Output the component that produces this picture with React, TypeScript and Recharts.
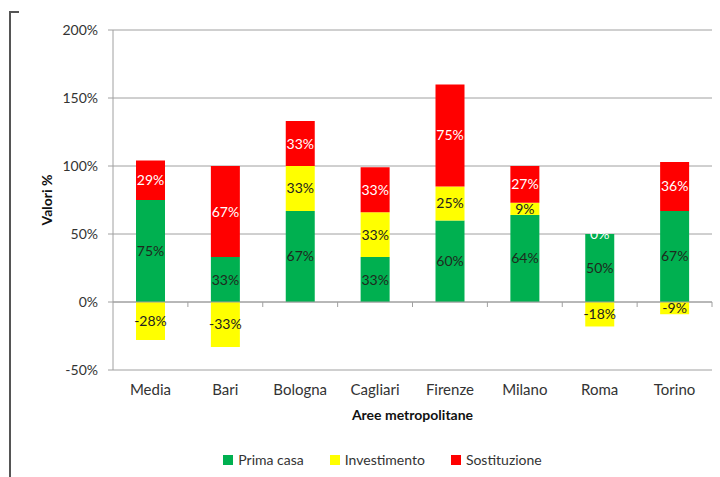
import React from "react";
import {
    ComposedChart,
    Bar,
    XAxis,
    YAxis,
    CartesianGrid,
    Legend,
    LabelList,
    ReferenceLine,
    ReferenceDot,
} from "recharts";

const aree = ["Media", "Bari", "Bologna", "Cagliari", "Firenze", "Milano", "Roma", "Torino"];
const primaCasa = [75, 33, 67, 33, 60, 64, 50, 67];
const investimento = [-28, -33, 33, 33, 25, 9, -18, -9];
const sostituzione = [29, 67, 33, 33, 75, 27, 0, 36];
const yTicks = [-50, 0, 50, 100, 150, 200];

const series = [
    { key: "primaCasa", name: "Prima casa", color: "#00b050", label: "#1e2a1e" },
    { key: "investimento", name: "Investimento", color: "#ffff00", label: "#222" },
    { key: "sostituzione", name: "Sostituzione", color: "#ff0000", label: "#fff" },
];

const data = aree.map((name, i) => ({
    name,
    primaCasa: primaCasa[i],
    investimento: investimento[i],
    sostituzione: sostituzione[i],
}));

// zero-height Sostituzione bars still get their label (recharts skips them)
const zeroLabels = aree
    .map((name, i) => ({ name, v: sostituzione[i], y: primaCasa[i] + Math.max(investimento[i], 0) }))
    .filter((d) => d.v === 0);

const FONT = "Lato, 'Open Sans', sans-serif";
const GRID = "#a0a0a0";
const pct = (v: any) => `${v}%`;

function LegendBox() {
    return (
        <div style={{ display: "flex", justifyContent: "center", gap: 26, fontSize: 14, color: "#333", fontFamily: FONT }}>
            {series.map((s) => (
                <span key={s.key} style={{ display: "flex", alignItems: "center", gap: 5 }}>
                    <span style={{ display: "inline-block", width: 10, height: 10, background: s.color }} />
                    {s.name}
                </span>
            ))}
        </div>
    );
}

// zero line with small tick marks between the categories
function ZeroLine(props: any) {
    const { x1, x2, y1 } = props;
    const step = (x2 - x1) / aree.length;
    return (
        <g>
            <line x1={x1} x2={x2} y1={y1} y2={y1} stroke={GRID} />
            {aree.map((_, i) => (
                <line key={i} x1={x1 + step * (i + 1)} x2={x1 + step * (i + 1)} y1={y1} y2={y1 + 5} stroke={GRID} />
            ))}
        </g>
    );
}

export default function App() {
    return (
        <div
            style={{
                position: "absolute",
                left: 0,
                top: 0,
                width: 720,
                height: 477,
                background: "#fff",
                fontFamily: FONT,
            }}
        >
            <div
                style={{
                    position: "absolute",
                    left: 9,
                    top: 11,
                    width: 8,
                    height: 470,
                    borderLeft: "2px solid #555",
                    borderTop: "2px solid #555",
                }}
            />
            <ComposedChart
                width={720}
                height={477}
                data={data}
                stackOffset="sign"
                margin={{ top: 30, right: 8, left: 53, bottom: 60 }}
            >
                <CartesianGrid vertical={false} stroke={GRID} />
                <XAxis
                    dataKey="name"
                    axisLine={false}
                    tickLine={false}
                    height={30}
                    tick={{ fill: "#333", fontSize: 15, fontFamily: FONT }}
                    tickMargin={8}
                    label={{
                        value: "Aree metropolitane",
                        position: "insideBottom",
                        offset: -20,
                        style: { fontWeight: "bold", fontSize: 14, fill: "#111", fontFamily: FONT },
                    }}
                />
                <YAxis
                    width={60}
                    domain={[-50, 200]}
                    ticks={yTicks}
                    tickFormatter={pct}
                    axisLine={{ stroke: GRID }}
                    tickLine={{ stroke: GRID }}
                    tickSize={5}
                    tick={{ fill: "#333", fontSize: 14, fontFamily: FONT, dx: -8 }}
                    label={{
                        value: "Valori %",
                        angle: -90,
                        position: "insideLeft",
                        offset: -6,
                        style: { fontWeight: "bold", fontSize: 14, fill: "#111", fontFamily: FONT, textAnchor: "middle" },
                    }}
                />
                <ReferenceLine y={0} shape={(p: any) => <ZeroLine {...p} />} />
                <Legend verticalAlign="bottom" wrapperStyle={{ bottom: 9 }} content={() => <LegendBox />} />
                {series.map((s) => (
                    <Bar
                        key={s.key}
                        dataKey={s.key}
                        name={s.name}
                        stackId="a"
                        fill={s.color}
                        barSize={29}
                        isAnimationActive={false}
                    >
                        <LabelList dataKey={s.key} position="center" formatter={pct} fill={s.label} fontSize={14} />
                    </Bar>
                ))}
                {zeroLabels.map((d) => (
                    <ReferenceDot
                        key={d.name}
                        x={d.name}
                        y={d.y}
                        r={0}
                        stroke="none"
                        label={{ value: pct(d.v), position: "center", fill: "#fff", fontSize: 14 }}
                    />
                ))}
            </ComposedChart>
        </div>
    );
}
